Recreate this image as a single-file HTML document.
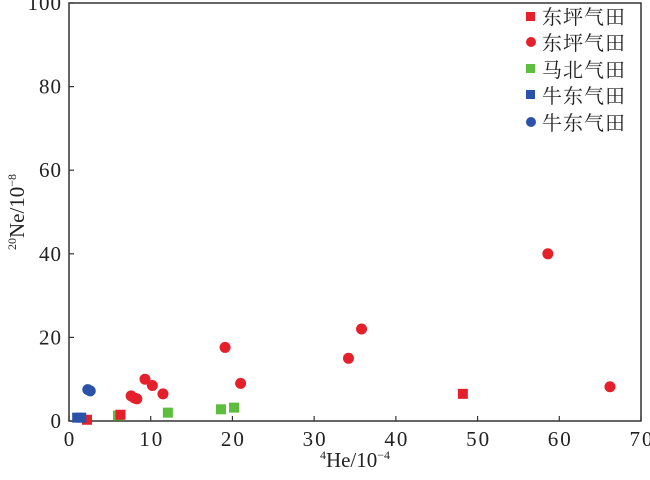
<!DOCTYPE html>
<html><head><meta charset="utf-8"><style>
body{margin:0;background:#fff}
svg text{font-family:"Liberation Serif","Noto Serif CJK SC",serif;fill:#222}
</style></head><body>
<svg id="c" width="650" height="475">
<g id="axes"></g><g id="marks"></g>
</svg>
<script>
const xTicks=[0,10,20,30,40,50,60,70];
const yTicks=[0,20,40,60,80,100];
const dpSqX=[2.2,6.3,48.2];
const dpSqY=[0.3,1.5,6.5];
const dpCirX=[7.6,8.0,8.3,9.3,10.2,11.5,19.1,21.0,34.2,35.8,58.6,66.2];
const dpCirY=[6.0,5.5,5.3,10.0,8.5,6.5,17.6,9.0,15.0,22.0,40.0,8.2];
const mbSqX=[6.0,12.1,18.6,20.2];
const mbSqY=[1.3,2.0,2.8,3.2];
const ndSqX=[1.0,1.5];
const ndSqY=[0.8,0.8];
const ndCirX=[2.3,2.6];
const ndCirY=[7.5,7.2];
const L=69,R=641,T=3,B=421;
const sx=v=>L+(v-0)/70*(R-L);
const sy=v=>B-(v-0)/100*(B-T);
const NS="http://www.w3.org/2000/svg";
function mk(tag,attrs,parent){const e=document.createElementNS(NS,tag);for(const k in attrs)e.setAttribute(k,attrs[k]);parent.appendChild(e);return e;}
const ax=document.getElementById('axes');
const fr=mk('rect',{x:L,y:T,width:R-L,height:B-T,fill:'none',stroke:'#333','stroke-width':1.5},ax);


xTicks.forEach(t=>{
 const l=mk('line',{x1:sx(t),x2:sx(t),y1:B,y2:B-5,stroke:'#333','stroke-width':1.2},ax);
 
 
 const tx=mk('text',{x:sx(t)+1,y:B+25,'text-anchor':'middle','font-size':21,'letter-spacing':2},ax);tx.textContent=t;
 
 
});
yTicks.forEach(t=>{
 const l=mk('line',{x1:L,x2:L+5,y1:sy(t),y2:sy(t),stroke:'#333','stroke-width':1.2},ax);
 
 
 const tx=mk('text',{x:L-7,y:sy(t)+7,'text-anchor':'end','font-size':21,'letter-spacing':1},ax);tx.textContent=t;
 
 
});
const m=document.getElementById('marks');
function sq(xs,ys,col,name){xs.forEach((x,i)=>{const r=mk('rect',{x:sx(x)-5,y:sy(ys[i])-5,width:10,height:10,fill:col},m);
 
 });}
function ci(xs,ys,col,name){xs.forEach((x,i)=>{const c=mk('circle',{cx:sx(x),cy:sy(ys[i]),r:5.5,fill:col},m);
 
 });}
const RED='#e5202a',GRN='#5dbd3c',BLU='#2a52a8';
sq(mbSqX,mbSqY,GRN,'mabei-square-point');
sq(dpSqX,dpSqY,RED,'dongping-square-point');
ci(dpCirX,dpCirY,RED,'dongping-circle-point');
sq(ndSqX,ndSqY,BLU,'niudong-square-point');
ci(ndCirX,ndCirY,BLU,'niudong-circle-point');
</script>
<svg style="position:absolute;left:0;top:0" width="650" height="475">
<g font-size="20" letter-spacing="1">
<rect x="526" y="12" width="9" height="9" fill="#e5202a"/>
<text x="542" y="24">东坪气田</text>
<circle cx="531" cy="42" r="5" fill="#e5202a"/>
<text x="542" y="50">东坪气田</text>
<rect x="526" y="64" width="9" height="9" fill="#5dbd3c"/>
<text x="542" y="77">马北气田</text>
<rect x="526" y="90" width="9" height="9" fill="#2a52a8"/>
<text x="542" y="103">牛东气田</text>
<circle cx="531" cy="122" r="5" fill="#2a52a8"/>
<text x="542" y="130">牛东气田</text>
</g>
<text x="355" y="467" text-anchor="middle" font-size="21" font-family="Liberation Serif,serif" fill="#222"><tspan font-size="12" dy="-8">4</tspan><tspan dy="8">He/10</tspan><tspan font-size="12" dy="-8">−4</tspan></text>
<text transform="translate(24,212) rotate(-90)" text-anchor="middle" font-size="21" font-family="Liberation Serif,serif" fill="#222"><tspan font-size="12" dy="-8">20</tspan><tspan dy="8">Ne/10</tspan><tspan font-size="12" dy="-8">−8</tspan></text>
</svg>
</body></html>
